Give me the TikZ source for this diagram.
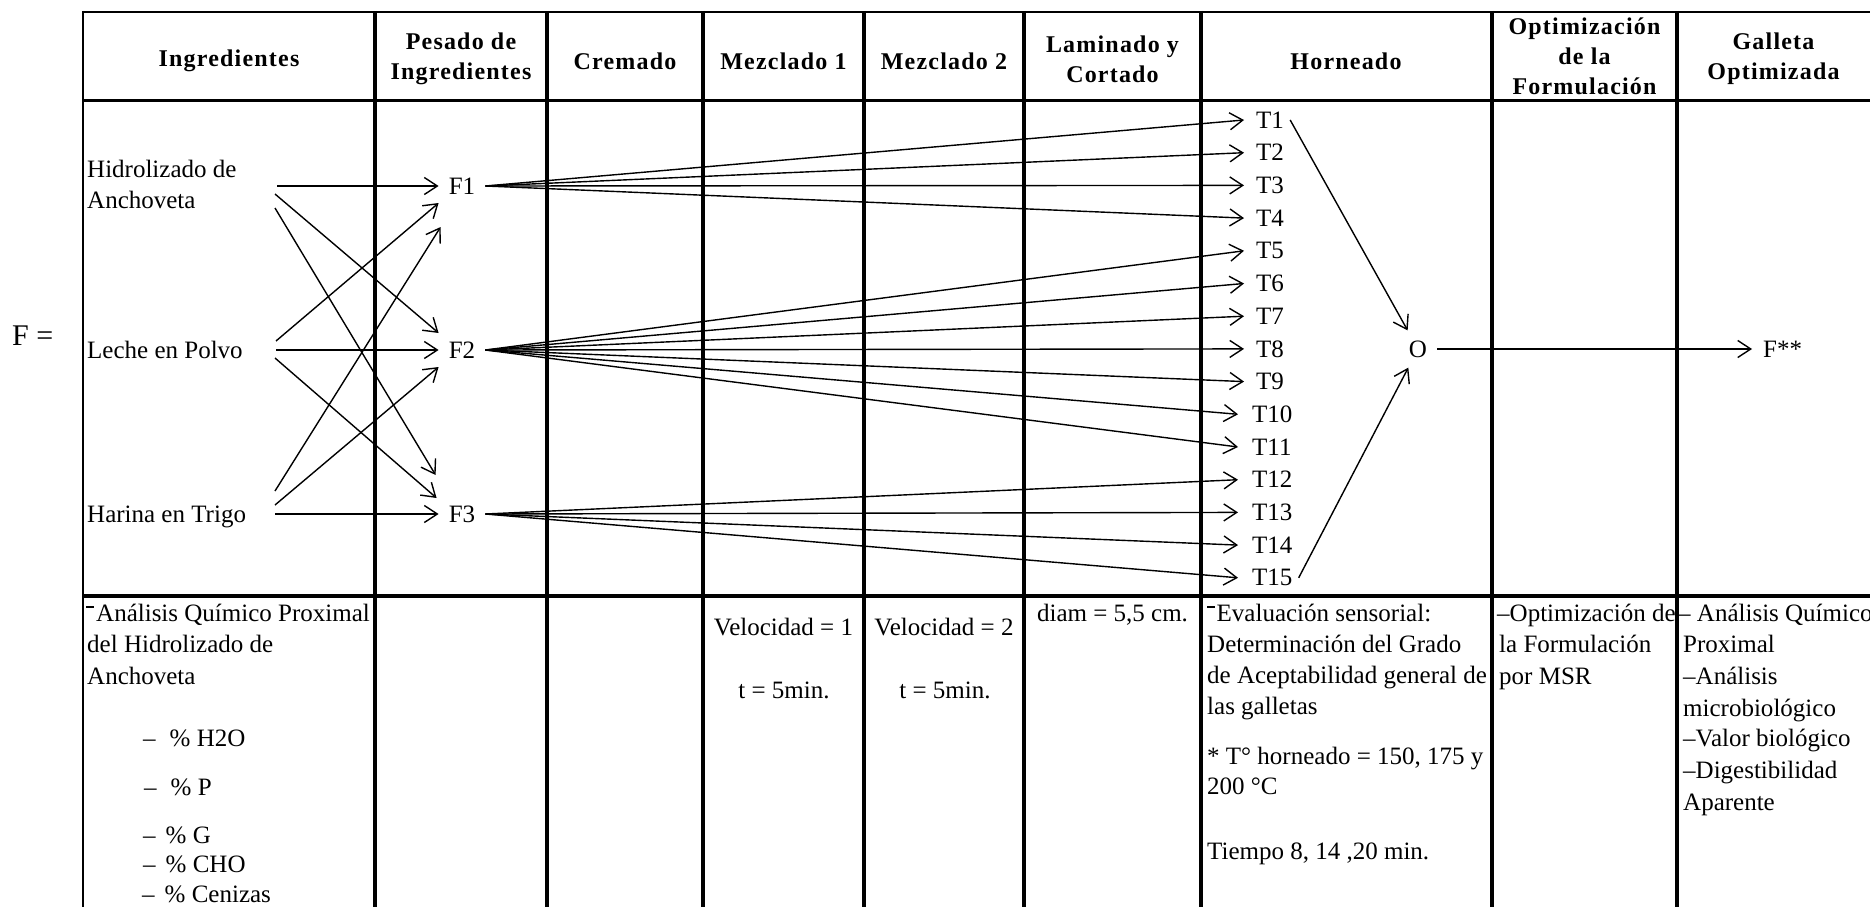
\documentclass[tikz,border=0pt]{standalone}
\usepackage{fontspec}
\setmainfont{Liberation Serif}
\usetikzlibrary{arrows.meta,calc}
\newcommand\myrbar{\raisebox{0.52em}{\rule{0.3em}{0.07em}}}
\begin{document}
\begin{tikzpicture}[x=1pt,y=-1pt,
  every node/.style={inner sep=0pt, font=\fontsize{25}{31}\selectfont},
  hdr/.style={font=\fontsize{24}{30}\selectfont\bfseries\addfontfeature{LetterSpace=5}, align=center},
  txt/.style={anchor=base west},
  ctxt/.style={anchor=base},
  fnode/.style={inner xsep=10pt, inner ysep=2pt},
  arr/.style={-{Straight Barb[length=13pt,width=17pt,line width=1.4pt]}, line width=1.4pt},
  col rule/.style={line width=4pt},
]
\useasboundingbox (0,0) rectangle (1870,907);

% table rules
\draw[line width=2pt] (83,12) -- (1870,12);
\draw[line width=3pt] (83,100) -- (1870,100);
\draw[line width=3.5pt] (83,596) -- (1870,596);
\draw[line width=2pt] (83,11) -- (83,907);
\foreach \x in {375,547,703,864,1024,1201,1492,1677} \draw[col rule] (\x,11) -- (\x,907);

% headers
\node[hdr] (h1) at (229,61) {Ingredientes};
\node[hdr] (h2) at (461,59) {Pesado de\\Ingredientes};
\node[hdr] (h3) at (625,61) {Cremado};
\node[hdr] (h4) at (783.5,61) {Mezclado 1};
\node[hdr] (h5) at (944,61) {Mezclado 2};
\node[hdr] (h6) at (1112.5,59) {Laminado y\\Cortado};
\node[hdr] (h7) at (1346,61) {Horneado};
\node[hdr] (h8) at (1584.5,56) {Optimización\\de la\\Formulación};
\node[hdr] (h9) at (1773.5,59) {Galleta\\Optimizada};

% F =
\node[font=\fontsize{30}{36}\selectfont, anchor=west] (feq) at (12,336) {F =};

% ingredients
\node[anchor=north west, align=left] (hid) at (87,160) {Hidrolizado de\\Anchoveta};
\node[txt] (lec) at (87,358) {Leche en Polvo};
\node[txt] (har) at (87,522) {Harina en Trigo};
\coordinate (hid-o) at (277,186);
\coordinate (lec-o) at (276,350);
\coordinate (har-o) at (275,514);

% formulations
\node[fnode] (F1) at (462,186) {F1};
\node[fnode] (F2) at (462,350) {F2};
\node[fnode] (F3) at (462,514) {F3};

\draw[arr] (hid-o) -- (F1.west);
\draw[arr] ($(hid-o)+(-2,8)$) -- ($(F2.west)+(0,-17)$);
\draw[arr] ($(hid-o)+(-2,22)$) -- ($(F3.west)+(-3,-39)$);
\draw[arr] ($(lec-o)+(0,-9)$) -- ($(F1.west)+(0,17)$);
\draw[arr] (lec-o) -- (F2.west);
\draw[arr] ($(lec-o)+(-1,8)$) -- ($(F3.west)+(-2,-16)$);
\draw[arr] ($(har-o)+(0,-23)$) -- ($(F1.west)+(2,41)$);
\draw[arr] ($(har-o)+(0,-9)$) -- ($(F2.west)+(0,17)$);
\draw[arr] (har-o) -- (F3.west);

% treatments
\foreach \i in {1,...,9}
  \node[anchor=west, inner xsep=12pt, inner ysep=2pt] (T\i) at (1244,{120+(\i-1)*32.7}) {T\i};
\foreach \i in {10,...,15}
  \node[anchor=west, inner xsep=14pt, inner ysep=2pt] (T\i) at (1238,{120+(\i-1)*32.7}) {T\i};

\foreach \i in {1,...,4} \draw[arr] (F1.east) -- (T\i.west);
\foreach \i in {5,...,11} \draw[arr] (F2.east) -- (T\i.west);
\foreach \i in {12,...,15} \draw[arr] (F3.east) -- (T\i.west);

% optimum
\node[inner xsep=10pt, inner ysep=10pt] (O) at (1418,349) {O};
\draw[arr] ($(T1.east)+(-6,0)$) -- (O);
\draw[arr] ($(T15.east)+(-8,0)$) -- (O);
\node[anchor=west, inner xsep=11pt] (Fss) at (1752,349) {F**};
\draw[arr] (O) -- (Fss);

% bottom row: Ingredientes
\node[txt] (b1a) at (86,621) {\myrbar\hspace{0.1em}Análisis Químico Proximal};
\node[txt] (b1b) at (87,652) {del Hidrolizado de};
\node[txt] (b1c) at (87,684) {Anchoveta};
\node[txt] (b1d) at (143,746) {–\hspace{14pt}\% H2O};
\node[txt] (b1e) at (144,795) {–\hspace{14pt}\% P};
\node[txt] (b1f) at (143,843) {–\hspace{10pt}\% G};
\node[txt] (b1g) at (143,872) {–\hspace{10pt}\% CHO};
\node[txt] (b1h) at (142,902) {–\hspace{10pt}\% Cenizas};

% Mezclado / Laminado
\node[ctxt] (m1a) at (783.5,635) {Velocidad = 1};
\node[ctxt] (m1b) at (784,698) {t = 5min.};
\node[ctxt] (m2a) at (944,635) {Velocidad = 2};
\node[ctxt] (m2b) at (945,698) {t = 5min.};
\node[ctxt] (lam) at (1112.5,621) {diam = 5,5 cm.};

% Horneado
\node[txt] (ho1) at (1207,621) {\myrbar\hspace{2pt}Evaluación sensorial:};
\node[txt] (ho2) at (1207,652) {Determinación del Grado};
\node[txt] (ho3) at (1207,683) {de Aceptabilidad general de};
\node[txt] (ho4) at (1207,714) {las galletas};
\node[txt] (ho5) at (1207,764) {* T° horneado = 150, 175 y};
\node[txt] (ho6) at (1207,794) {200 °C};
\node[txt] (ho7) at (1207,859) {Tiempo 8, 14 ,20 min.};

% Optimizacion
\node[txt] (op1) at (1497,621) {–Optimización de};
\node[txt] (op2) at (1499,652) {la Formulación};
\node[txt] (op3) at (1499,684) {por MSR};

% Galleta
\node[txt] (g1) at (1678,621) {– Análisis Químico};
\node[txt] (g2) at (1683,652) {Proximal};
\node[txt] (g3) at (1683,684) {–Análisis};
\node[txt] (g4) at (1683,716) {microbiológico};
\node[txt] (g5) at (1683,746) {–Valor biológico};
\node[txt] (g6) at (1683,778) {–Digestibilidad};
\node[txt] (g7) at (1683,810) {Aparente};
\end{tikzpicture}
\end{document}
